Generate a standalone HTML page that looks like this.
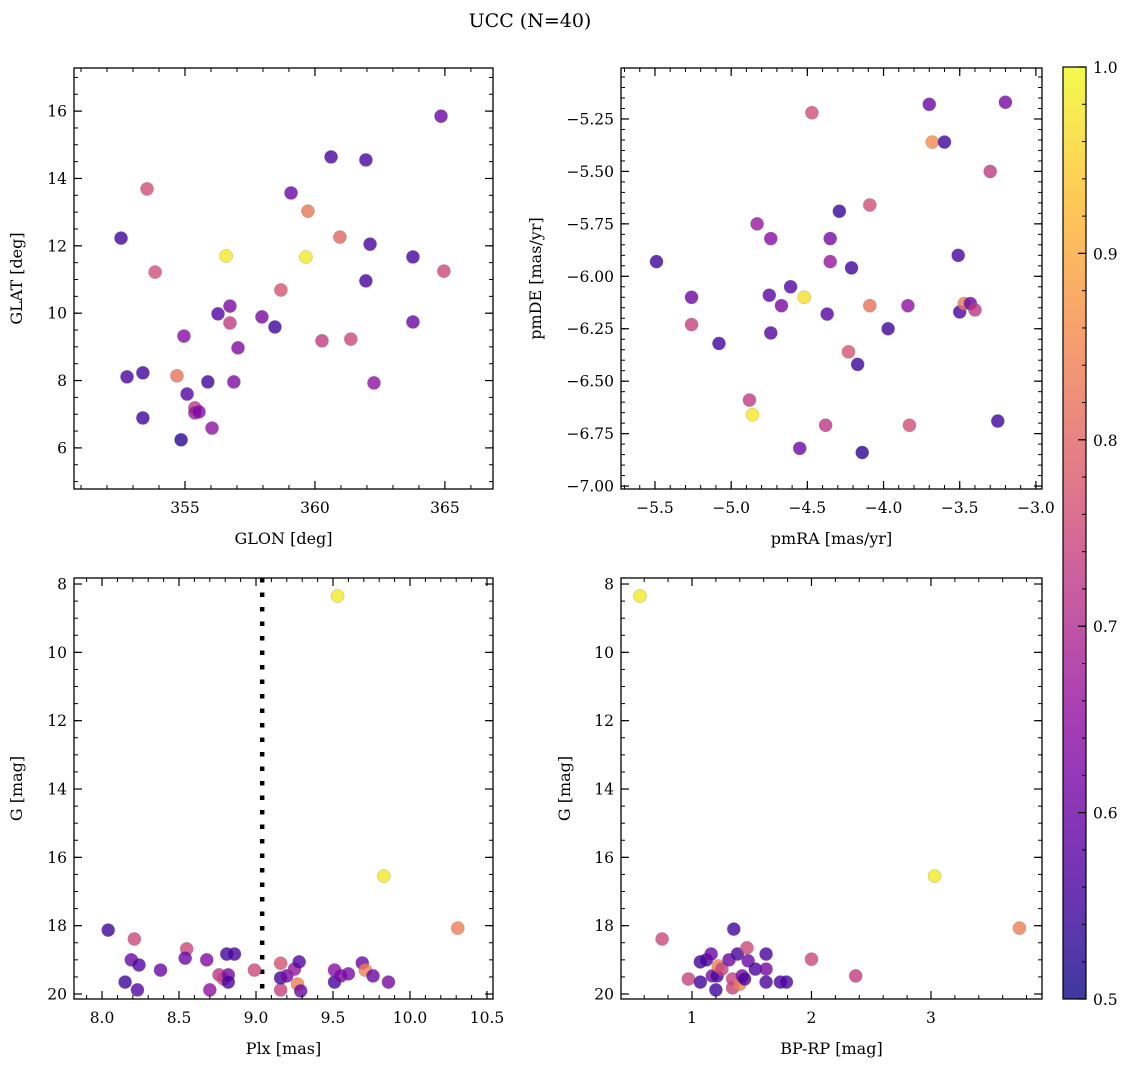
<!DOCTYPE html>
<html><head><meta charset="utf-8">
<style>
body{margin:0;background:#fff;}
svg text{font-family:"DejaVu Serif","Liberation Serif",serif;fill:#000;}
</style></head>
<body>
<svg id="fig" width="1136" height="1067" xmlns="http://www.w3.org/2000/svg">
<rect width="1136" height="1067" fill="#fff"/>
<text x="530" y="27" font-size="19" text-anchor="middle">UCC (N=40)</text>
</svg>
<script>
// ---- Panel 1: GLON vs GLAT ----
const p1x=[352.54,353.54,353.85,352.77,353.38,353.38,354.69,354.85,354.96,355.08,355.38,355.38,355.54,356.04,355.88,356.27,356.58,356.73,356.73,356.88,357.04,357.96,358.46,358.69,359.08,359.65,359.73,360.27,360.62,360.96,361.38,361.96,362.12,361.96,362.27,363.77,363.77,364.85,364.96];
const p1y=[12.23,13.69,11.22,8.11,8.23,6.89,8.14,6.24,9.32,7.6,7.19,7.04,7.07,6.59,7.96,9.98,11.7,10.21,9.71,7.96,8.97,9.89,9.59,10.69,13.57,11.67,13.03,9.18,14.64,12.26,9.23,14.55,12.05,10.96,7.93,11.67,9.74,15.85,11.25];
const p1c=[0.55,0.76,0.76,0.56,0.55,0.55,0.82,0.53,0.64,0.57,0.72,0.66,0.63,0.65,0.55,0.57,0.98,0.62,0.73,0.63,0.63,0.62,0.55,0.77,0.6,0.98,0.83,0.73,0.56,0.8,0.75,0.56,0.56,0.56,0.65,0.56,0.6,0.6,0.75];
// ---- Panel 2: pmRA vs pmDE ----
const p2x=[-5.49,-5.26,-5.26,-5.08,-4.88,-4.86,-4.83,-4.74,-4.75,-4.74,-4.67,-4.61,-4.55,-4.52,-4.47,-4.29,-4.35,-4.35,-4.37,-4.38,-4.23,-4.21,-4.17,-4.14,-4.09,-4.09,-3.97,-3.84,-3.83,-3.70,-3.68,-3.60,-3.51,-3.50,-3.47,-3.43,-3.40,-3.30,-3.25,-3.20];
const p2y=[-5.93,-6.10,-6.23,-6.32,-6.59,-6.66,-5.75,-5.82,-6.09,-6.27,-6.14,-6.05,-6.82,-6.10,-5.22,-5.69,-5.82,-5.93,-6.18,-6.71,-6.36,-5.96,-6.42,-6.84,-5.66,-6.14,-6.25,-6.14,-6.71,-5.18,-5.36,-5.36,-5.90,-6.17,-6.13,-6.13,-6.16,-5.50,-6.69,-5.17];
const p2c=[0.55,0.6,0.74,0.55,0.73,0.98,0.66,0.64,0.58,0.57,0.62,0.57,0.6,0.97,0.76,0.54,0.62,0.66,0.57,0.72,0.77,0.55,0.55,0.53,0.76,0.82,0.55,0.65,0.76,0.6,0.86,0.55,0.56,0.56,0.83,0.6,0.72,0.73,0.55,0.62];
// ---- Panel 3: Plx vs G ----
const p3x=[8.04,8.21,8.15,8.19,8.24,8.23,8.38,8.55,8.54,8.68,8.70,8.76,8.79,8.81,8.82,8.86,8.82,8.99,9.16,9.16,9.16,9.2,9.25,9.27,9.28,9.29,9.53,9.51,9.51,9.55,9.60,9.69,9.71,9.76,9.83,9.86,10.31];
const p3y=[18.13,18.39,19.65,19.0,19.15,19.88,19.3,18.68,18.95,19.0,19.88,19.44,19.56,18.83,19.44,18.83,19.65,19.3,19.1,19.88,19.53,19.47,19.27,19.71,19.06,19.91,8.35,19.3,19.65,19.47,19.41,19.09,19.3,19.47,16.55,19.65,18.07];
const p3c=[0.55,0.75,0.55,0.6,0.57,0.57,0.6,0.75,0.6,0.63,0.65,0.72,0.74,0.55,0.62,0.56,0.56,0.75,0.77,0.74,0.55,0.62,0.66,0.84,0.57,0.6,0.98,0.64,0.56,0.62,0.62,0.6,0.84,0.6,0.98,0.62,0.84];
// ---- Panel 4: BP-RP vs G ----
const p4x=[0.565,0.75,0.97,1.07,1.07,1.12,1.16,1.17,1.20,1.21,1.22,1.25,1.31,1.34,1.34,1.35,1.38,1.40,1.42,1.44,1.46,1.47,1.53,1.62,1.62,1.62,1.74,1.79,2.0,2.37,3.03,3.74];
const p4y=[8.35,18.39,19.56,19.06,19.65,19.0,18.83,19.47,19.88,19.47,19.18,19.27,19.0,19.56,19.82,18.1,18.83,19.71,19.47,19.56,18.65,19.03,19.27,18.83,19.27,19.65,19.65,19.65,18.98,19.47,16.55,18.07];
const p4c=[0.98,0.75,0.74,0.55,0.55,0.56,0.6,0.62,0.55,0.56,0.84,0.74,0.6,0.74,0.74,0.55,0.56,0.84,0.62,0.56,0.75,0.6,0.56,0.56,0.62,0.56,0.56,0.56,0.75,0.73,0.98,0.84];
// ---- Tick labels ----
const p1xt=[355,360,365], p1yt=[6,8,10,12,14,16];
const p2xt=[-5.5,-5.0,-4.5,-4.0,-3.5,-3.0], p2yt=[-7.00,-6.75,-6.50,-6.25,-6.00,-5.75,-5.50,-5.25];
const p3xt=[8.0,8.5,9.0,9.5,10.0,10.5], gyt=[8,10,12,14,16,18,20];
const p4xt=[1,2,3];
const cbt=[0.5,0.6,0.7,0.8,0.9,1.0];
const plxLine=9.04;

const NS="http://www.w3.org/2000/svg";
const svg=document.getElementById('fig');
function mk(tag,at,parent){const e=document.createElementNS(NS,tag);for(const k in at)e.setAttribute(k,at[k]);(parent||svg).appendChild(e);return e;}
const stops=[[13,8,135],[84,2,163],[139,10,165],[185,50,137],[219,92,104],[244,136,73],[254,188,43],[240,249,33]];
function plasma(v){let t=(v-0.5)/0.5;t=Math.max(0,Math.min(1,t));const s=t*(stops.length-1);const i=Math.min(stops.length-2,Math.floor(s));const f=s-i;const a=stops[i],b=stops[i+1];return `rgb(${a.map((x,k)=>Math.round(x+(b[k]-x)*f)).join(',')})`;}

function panel(o){
  const g=mk('g',{});
  
  
  const {x0,x1,y0,y1}=o;
  const sx=v=>x0+(v-o.xmin)/(o.xmax-o.xmin)*(x1-x0);
  const sy=o.inv? v=>y0+(v-o.ymin)/(o.ymax-o.ymin)*(y1-y0) : v=>y1-(v-o.ymin)/(o.ymax-o.ymin)*(y1-y0);
  if(o.vline!==undefined){const l=mk('line',{x1:sx(o.vline),x2:sx(o.vline),y1:y0,y2:y1,stroke:'#000','stroke-width':4.5,'stroke-dasharray':'4.5 10'},g);
    }
  o.xs.forEach((xv,i)=>{const c=mk('circle',{cx:sx(xv),cy:sy(o.ys[i]),r:6.6,fill:plasma(o.cs[i]),'fill-opacity':0.8,stroke:'#777','stroke-width':0.4,'stroke-opacity':0.6},g);
    });
  const eps=1e-9;
  for(let v=Math.ceil(o.xmin/o.xmi-eps)*o.xmi;v<=o.xmax+eps;v+=o.xmi){const X=sx(v);mk('line',{x1:X,x2:X,y1:y1,y2:y1-4,stroke:'#000','stroke-width':1},g);mk('line',{x1:X,x2:X,y1:y0,y2:y0+4,stroke:'#000','stroke-width':1},g);}
  for(let v=Math.ceil(o.ymin/o.ymi-eps)*o.ymi;v<=o.ymax+eps;v+=o.ymi){const Y=sy(v);mk('line',{x1:x0,x2:x0+4,y1:Y,y2:Y,stroke:'#000','stroke-width':1},g);mk('line',{x1:x1,x2:x1-4,y1:Y,y2:Y,stroke:'#000','stroke-width':1},g);}
  o.xt.forEach(v=>{const X=sx(v);mk('line',{x1:X,x2:X,y1:y1,y2:y1-8,stroke:'#000','stroke-width':1.2},g);mk('line',{x1:X,x2:X,y1:y0,y2:y0+8,stroke:'#000','stroke-width':1.2},g);
    const t=mk('text',{x:X,y:y1+24,'font-size':15.5,'text-anchor':'middle'},g);t.textContent=o.xf(v);});
  o.yt.forEach(v=>{const Y=sy(v);mk('line',{x1:x0,x2:x0+8,y1:Y,y2:Y,stroke:'#000','stroke-width':1.2},g);mk('line',{x1:x1,x2:x1-8,y1:Y,y2:Y,stroke:'#000','stroke-width':1.2},g);
    const t=mk('text',{x:x0-7,y:Y+5.5,'font-size':15.5,'text-anchor':'end'},g);t.textContent=o.yf(v);});
  const fr=mk('rect',{x:x0,y:y0,width:x1-x0,height:y1-y0,fill:'none',stroke:'#000','stroke-width':1.3},g);
  
  const xl=mk('text',{x:(x0+x1)/2,y:y1+55,'font-size':16,'text-anchor':'middle'},g);xl.textContent=o.xlab;
  
  const yx=o.ylx, ym=(y0+y1)/2;
  const yl=mk('text',{x:yx,y:ym,'font-size':16,'text-anchor':'middle',transform:`rotate(-90 ${yx} ${ym})`},g);yl.textContent=o.ylab;
  
}
const f0=v=>String(v), f1=v=>v.toFixed(1), f2=v=>v.toFixed(2).replace('-','−');
panel({name:'glon-glat-panel',x0:74,x1:493,y0:68,y1:489,xmin:350.73,xmax:366.85,ymin:4.78,ymax:17.28,xs:p1x,ys:p1y,cs:p1c,xt:p1xt,yt:p1yt,xmi:1,ymi:0.5,xf:f0,yf:f0,xlab:'GLON [deg]',ylab:'GLAT [deg]',ylx:22});
panel({name:'pm-panel',x0:621,x1:1042,y0:68,y1:489,xmin:-5.723,xmax:-2.96,ymin:-7.014,ymax:-5.007,xs:p2x,ys:p2y,cs:p2c,xt:p2xt,yt:p2yt,xmi:0.1,ymi:0.05,xf:v=>f1(v).replace('-','−'),yf:f2,xlab:'pmRA [mas/yr]',ylab:'pmDE [mas/yr]',ylx:541});
panel({name:'plx-g-panel',x0:74,x1:493,y0:578,y1:999,xmin:7.818,xmax:10.539,ymin:7.824,ymax:20.146,inv:true,xs:p3x,ys:p3y,cs:p3c,xt:p3xt,yt:gyt,xmi:0.1,ymi:0.5,xf:f1,yf:f0,xlab:'Plx [mas]',ylab:'G [mag]',ylx:22,vline:plxLine});
panel({name:'color-g-panel',x0:621,x1:1042,y0:578,y1:999,xmin:0.406,xmax:3.929,ymin:7.824,ymax:20.146,inv:true,xs:p4x,ys:p4y,cs:p4c,xt:p4xt,yt:gyt,xmi:0.2,ymi:0.5,xf:f0,yf:f0,xlab:'BP-RP [mag]',ylab:'G [mag]',ylx:570});

// colorbar
const defs=mk('defs',{});const lg=mk('linearGradient',{id:'cbg',x1:0,y1:1,x2:0,y2:0},defs);
for(let i=0;i<=20;i++){mk('stop',{offset:i/20,'stop-color':plasma(0.5+i/40),'stop-opacity':0.8},lg);}
const cx0=1063,cx1=1086,cy0=67,cy1=999;
const cb=mk('rect',{x:cx0,y:cy0,width:cx1-cx0,height:cy1-cy0,fill:'url(#cbg)',stroke:'#000','stroke-width':1.2});

const cy=v=>cy1-(v-0.5)/0.5*(cy1-cy0);
for(let k=0;k<=25;k++){const v=0.5+k*0.02;const Y=cy(v);mk('line',{x1:cx1,x2:cx1-4,y1:Y,y2:Y,stroke:'#000','stroke-width':1});}
cbt.forEach(v=>{const Y=cy(v);mk('line',{x1:cx1,x2:cx1-8,y1:Y,y2:Y,stroke:'#000','stroke-width':1.2});
  const t=mk('text',{x:cx1+7,y:Y+6,'font-size':15.5});t.textContent=v.toFixed(1);
  });
</script>
</body></html>
